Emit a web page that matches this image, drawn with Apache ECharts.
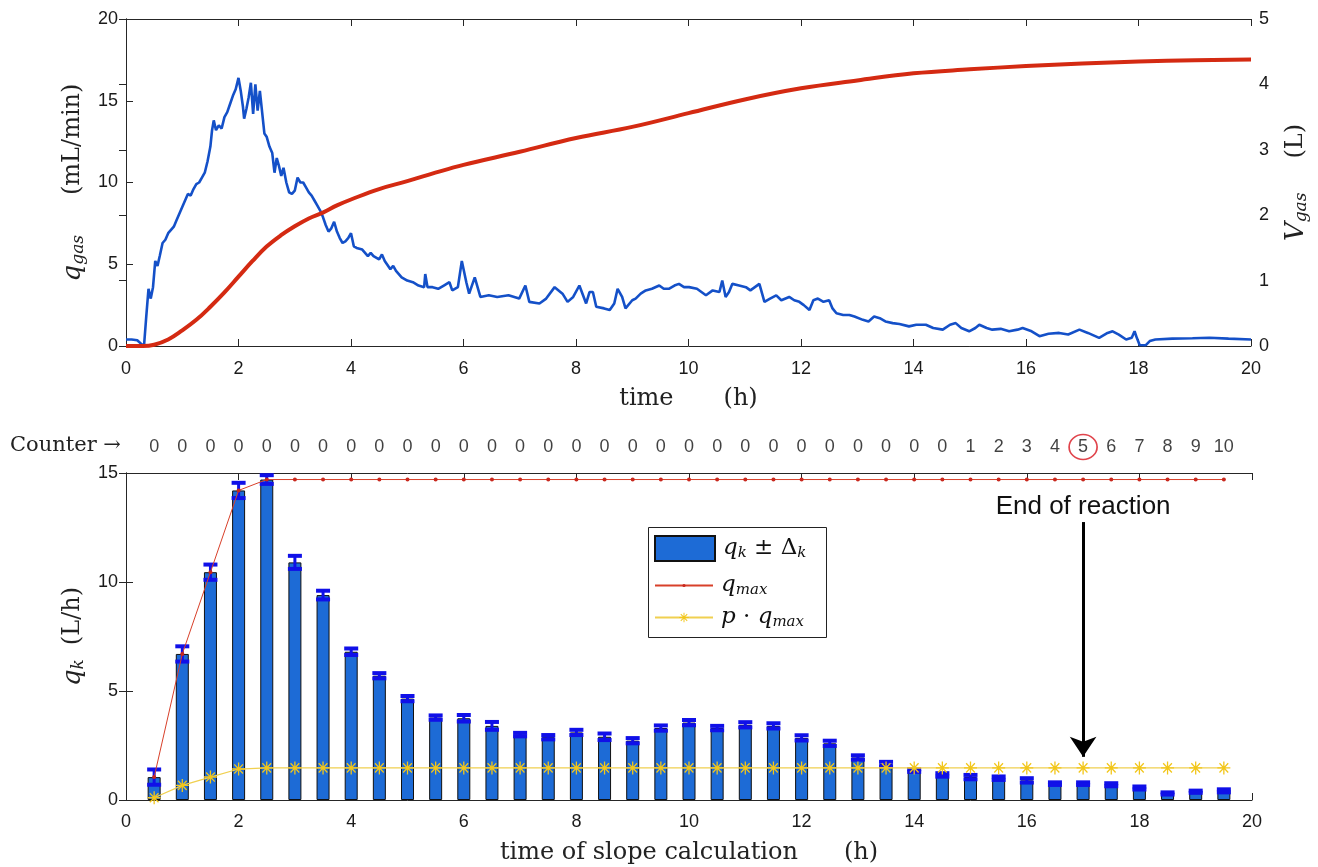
<!DOCTYPE html>
<html>
<head>
<meta charset="utf-8">
<script src="https://cdn.jsdelivr.net/npm/echarts@6/dist/echarts.min.js"></script>
<style>
html, body { margin: 0; padding: 0; background: #fff; }
#chart { width: 1318px; height: 867px; }
</style>
</head>
<body>
<div id="chart"></div>
<script>
// top panel: gas flow (mL/min) and cumulative gas volume (L)
var qTime = [0,0.1,0.2,0.28,0.32,0.36,0.4,0.44,0.48,0.52,0.56,0.6,0.65,0.7,0.75,0.8,0.85,0.9,0.95,1.0,1.05,1.1,1.15,1.2,1.25,1.3,1.35,1.4,1.45,1.5,1.53,1.56,1.6,1.65,1.7,1.75,1.8,1.85,1.9,1.95,2.0,2.04,2.08,2.1,2.14,2.18,2.22,2.26,2.3,2.34,2.38,2.42,2.46,2.5,2.55,2.6,2.64,2.68,2.72,2.76,2.8,2.85,2.9,2.95,3.0,3.05,3.1,3.15,3.2,3.25,3.3,3.35,3.4,3.45,3.5,3.55,3.6,3.65,3.7,3.75,3.8,3.85,3.9,3.95,4.0,4.05,4.1,4.2,4.3,4.35,4.4,4.5,4.55,4.6,4.7,4.75,4.8,4.9,5.0,5.1,5.2,5.3,5.32,5.36,5.45,5.55,5.65,5.75,5.8,5.9,5.97,6.05,6.1,6.2,6.3,6.45,6.6,6.8,6.99,7.1,7.17,7.35,7.47,7.62,7.76,7.85,7.95,8.06,8.18,8.24,8.3,8.36,8.5,8.6,8.68,8.74,8.82,8.88,9.0,9.06,9.15,9.24,9.35,9.48,9.56,9.65,9.75,9.83,9.92,10.01,10.15,10.31,10.43,10.55,10.6,10.66,10.72,10.78,10.9,11.02,11.1,11.26,11.35,11.45,11.56,11.65,11.79,11.88,11.97,12.05,12.15,12.22,12.3,12.4,12.5,12.56,12.63,12.75,12.86,12.95,13.1,13.2,13.3,13.4,13.5,13.63,13.75,13.92,14.05,14.22,14.35,14.52,14.65,14.75,14.85,14.99,15.1,15.17,15.3,15.4,15.55,15.7,15.85,15.94,16.1,16.24,16.4,16.59,16.75,16.95,17.1,17.3,17.45,17.54,17.65,17.78,17.88,17.93,17.97,18.02,18.13,18.2,18.3,18.6,18.96,19.26,19.6,20];
var qGas = [0.4,0.4,0.35,0.1,0.0,1.8,3.5,2.9,3.6,5.2,4.9,5.5,6.3,6.5,6.9,7.1,7.3,7.7,8.1,8.5,8.9,9.3,9.2,9.6,9.9,10.0,10.3,10.6,11.3,12.2,13.2,13.8,13.2,13.5,13.3,14.0,14.3,14.8,15.3,15.7,16.4,15.6,14.6,13.9,14.5,15.2,16.1,14.2,16.0,14.4,15.6,14.3,13.0,12.8,12.2,11.8,10.6,11.5,11.0,10.4,10.9,10.0,9.4,9.3,9.5,10.3,10.0,10.0,9.7,9.4,9.2,8.9,8.6,8.3,7.9,7.4,7.0,7.2,7.6,7.0,6.6,6.3,6.4,6.6,6.9,6.1,6.0,5.9,5.5,5.7,5.5,5.3,5.6,5.2,4.7,4.9,4.6,4.2,4.0,3.9,3.7,3.6,4.4,3.6,3.6,3.5,3.7,3.9,3.4,3.6,5.2,3.9,3.2,4.2,3.0,3.1,3.0,3.1,2.9,3.7,2.7,2.6,2.9,3.6,3.2,2.7,3.0,3.7,2.6,3.3,3.3,2.4,2.3,2.2,2.6,3.5,3.0,2.3,2.8,2.9,3.2,3.4,3.5,3.7,3.5,3.5,3.7,3.8,3.6,3.6,3.5,3.1,3.4,3.3,4.0,3.0,3.3,3.8,3.7,3.6,3.4,3.8,2.7,2.9,3.1,2.8,3.0,2.8,2.7,2.5,2.2,2.8,2.9,2.7,2.8,2.3,2.0,1.9,1.9,1.8,1.6,1.5,1.8,1.7,1.5,1.4,1.35,1.2,1.3,1.3,1.1,1.0,1.3,1.4,1.1,0.9,1.1,1.3,1.1,1.0,1.05,0.9,1.0,1.1,0.9,0.6,0.75,0.8,0.7,1.0,0.8,0.5,0.8,0.9,0.7,0.4,0.5,0.9,0.5,0.06,0.05,0.3,0.4,0.45,0.47,0.5,0.45,0.4];
var vTime = [0,0.3,0.5,0.75,1,1.25,1.5,1.75,2,2.25,2.5,2.75,3,3.25,3.5,3.75,4,4.5,5,5.5,6,7,8,9,10,11,12,13,14,15,16,17,18,19,20];
var vGas = [0,0,0.02,0.1,0.24,0.4,0.6,0.82,1.06,1.3,1.52,1.69,1.83,1.95,2.04,2.15,2.24,2.4,2.52,2.65,2.77,2.97,3.18,3.35,3.56,3.77,3.94,4.06,4.17,4.23,4.28,4.32,4.35,4.37,4.38];

// bottom panel: slopes q_k (L/h) with error, running max and threshold
var tk = [0.5,1,1.5,2,2.5,3,3.5,4,4.5,5,5.5,6,6.5,7,7.5,8,8.5,9,9.5,10,10.5,11,11.5,12,12.5,13,13.5,14,14.5,15,15.5,16,16.5,17,17.5,18,18.5,19,19.5];
var qk = [1.05,6.7,10.45,14.2,14.7,10.9,9.4,6.8,5.7,4.65,3.78,3.75,3.4,3.0,2.88,3.1,2.9,2.72,3.3,3.55,3.3,3.45,3.4,2.85,2.6,1.95,1.65,1.35,1.15,1.05,1.0,0.9,0.75,0.75,0.7,0.55,0.3,0.38,0.42];
var dk = [0.35,0.35,0.35,0.35,0.2,0.3,0.2,0.15,0.12,0.12,0.1,0.15,0.18,0.08,0.1,0.12,0.15,0.12,0.12,0.12,0.1,0.12,0.12,0.12,0.12,0.1,0.1,0.06,0.08,0.1,0.08,0.1,0.06,0.06,0.07,0.07,0.05,0.05,0.07];
var qMax = [1.05,6.7,10.45,14.2,14.7,14.7,14.7,14.7,14.7,14.7,14.7,14.7,14.7,14.7,14.7,14.7,14.7,14.7,14.7,14.7,14.7,14.7,14.7,14.7,14.7,14.7,14.7,14.7,14.7,14.7,14.7,14.7,14.7,14.7,14.7,14.7,14.7,14.7,14.7];
var pqMax = [0.1,0.67,1.05,1.42,1.47,1.47,1.47,1.47,1.47,1.47,1.47,1.47,1.47,1.47,1.47,1.47,1.47,1.47,1.47,1.47,1.47,1.47,1.47,1.47,1.47,1.47,1.47,1.47,1.47,1.47,1.47,1.47,1.47,1.47,1.47,1.47,1.47,1.47,1.47];
var counter = [0,0,0,0,0,0,0,0,0,0,0,0,0,0,0,0,0,0,0,0,0,0,0,0,0,0,0,0,0,1,2,3,4,5,6,7,8,9,10];
var endTime = 17;

function zip(a, b) {
    var out = [];
    for (var i = 0; i < a.length; i++) out.push([a[i], b[i]]);
    return out;
}

var AX = '#262626';
var SANS = 'Liberation Sans';
var SERIF = 'DejaVu Serif';
var tickLbl = {color: '#1a1a1a', fontFamily: SANS, fontSize: 18};
var STAR = 'path://M9,0L11,0L11,7L16,2L17.4,3.4L12.4,8.4L20,8.4L20,10.4L12.4,10.4L17.4,15.4L16,16.8L11,11.8L11,19L9,19L9,11.8L4,16.8L2.6,15.4L7.6,10.4L0,10.4L0,8.4L7.6,8.4L2.6,3.4L4,2L9,7Z';

// axis-name styles (LaTeX look)
var nameRich = {
    i: {fontFamily: SERIF, fontStyle: 'italic', fontSize: 26, color: '#222'},
    s: {fontFamily: SERIF, fontStyle: 'italic', fontSize: 17, color: '#222', padding: [11, 0, 0, 0]},
    r: {fontFamily: SERIF, fontSize: 24, color: '#222'},
    g: {width: 34}
};
// legend styles
var legRich = {
    i: {fontFamily: SERIF, fontStyle: 'italic', fontSize: 23, color: '#111'},
    s: {fontFamily: SERIF, fontStyle: 'italic', fontSize: 15, color: '#111', padding: [10, 0, 0, 0]},
    r: {fontFamily: SERIF, fontSize: 23, color: '#111'}
};

function boxX(grid, pos) {
    return {
        type: 'value', gridIndex: grid, position: pos, min: 0, max: 20, interval: 2,
        axisLine: {show: true, onZero: false, lineStyle: {color: AX, width: 1}},
        axisTick: {show: true, inside: true, length: 7, lineStyle: {color: AX}},
        axisLabel: {show: false}, splitLine: {show: false}
    };
}

function legendBlock(name, top, w, h, icon) {
    var item = {name: name};
    if (icon) item.icon = icon;
    return {
        data: [item], orient: 'vertical', left: 654, top: top,
        padding: 0, itemWidth: w, itemHeight: h, itemGap: 0,
        textStyle: {rich: legRich, padding: [0, 0, 0, 3]},
        selectedMode: false,
        formatter: function(n) {
            if (n == 'qk') return '{i|q}{s|k}{r| ± Δ}{s|k}';
            if (n == 'qmax') return '{i|q}{s|max}';
            return '{i|p}{r| · }{i|q}{s|max}';
        }
    };
}

var chart = echarts.init(document.getElementById('chart'));

var option = {
    backgroundColor: '#fff',
    animation: false,
    grid: [
        {left: 126, top: 19, width: 1126, height: 327},
        {left: 126, top: 473, width: 1126, height: 327}
    ],
    xAxis: [
        {
            type: 'value', gridIndex: 0, position: 'bottom', min: 0, max: 20, interval: 2,
            name: '{r|time}{g|}{r|(h)}', nameLocation: 'middle', nameGap: 41,
            nameTextStyle: {rich: Object.assign({}, nameRich, {g: {width: 50}})},
            axisLine: {show: true, onZero: false, lineStyle: {color: AX}},
            axisTick: {show: true, inside: true, length: 7, lineStyle: {color: AX}},
            axisLabel: Object.assign({margin: 14}, tickLbl),
            splitLine: {show: false}
        },
        boxX(0, 'top'),
        {
            type: 'value', gridIndex: 1, position: 'bottom', min: 0, max: 20, interval: 2,
            name: '{r|time of slope calculation}{g|}{r|(h)}', nameLocation: 'middle', nameGap: 41,
            nameTextStyle: {rich: Object.assign({}, nameRich, {g: {width: 46}})},
            axisLine: {show: true, onZero: false, lineStyle: {color: AX}},
            axisTick: {show: true, inside: true, length: 7, lineStyle: {color: AX}},
            axisLabel: Object.assign({margin: 13}, tickLbl),
            splitLine: {show: false}
        },
        boxX(1, 'top')
    ],
    yAxis: [
        {
            type: 'value', gridIndex: 0, position: 'left', min: 0, max: 20, interval: 5,
            name: '{i|q}{s|gas}{g|}{r|(mL/min)}', nameLocation: 'middle', nameRotate: 90, nameGap: 38,
            nameTextStyle: {rich: Object.assign({}, nameRich, {g: {width: 40}})},
            axisLine: {show: true, lineStyle: {color: AX}},
            axisTick: {show: true, inside: true, length: 7, lineStyle: {color: AX}},
            axisLabel: Object.assign({margin: 8}, tickLbl),
            splitLine: {show: false}
        },
        {
            type: 'value', gridIndex: 0, position: 'right', min: 0, max: 5, interval: 1,
            name: '{i|V}{s|gas}{g|}{r|(L)}', nameLocation: 'middle', nameRotate: 90, nameGap: 31,
            nameTextStyle: {rich: nameRich},
            axisLine: {show: true, lineStyle: {color: AX}},
            axisTick: {show: true, inside: true, length: 7, lineStyle: {color: AX}},
            axisLabel: Object.assign({margin: 8}, tickLbl),
            splitLine: {show: false}
        },
        {
            type: 'value', gridIndex: 1, position: 'left', min: 0, max: 15, interval: 5,
            name: '{i|q}{s|k}{g|}{r|(L/h)}', nameLocation: 'middle', nameRotate: 90, nameGap: 38,
            nameTextStyle: {rich: Object.assign({}, nameRich, {g: {width: 14}})},
            axisLine: {show: true, lineStyle: {color: AX}},
            axisTick: {show: true, inside: true, length: 7, lineStyle: {color: AX}},
            axisLabel: Object.assign({margin: 8}, tickLbl),
            splitLine: {show: false}
        },
        {
            type: 'value', gridIndex: 1, position: 'right', min: 0, max: 15, interval: 5,
            axisLine: {show: true, lineStyle: {color: AX}},
            axisTick: {show: true, inside: true, length: 7, lineStyle: {color: AX}},
            axisLabel: {show: false},
            splitLine: {show: false}
        }
    ],
    legend: [
        legendBlock('qk', 535, 60, 25, 'rect'),
        legendBlock('qmax', 574, 58, 4),
        legendBlock('pqmax', 606, 58, 12)
    ],
    graphic: [
        {type: 'rect', left: 648, top: 527, z: 1,
         shape: {width: 178, height: 110},
         style: {fill: '#fff', stroke: '#222', lineWidth: 1}},
        {type: 'text', left: 10, top: 435, style: {text: 'Counter →', font: '21px "DejaVu Serif"', fill: '#222'}}
    ],
    series: [
        {
            name: 'qgas', type: 'line', xAxisIndex: 0, yAxisIndex: 0,
            data: zip(qTime, qGas), showSymbol: false, symbol: 'none',
            lineStyle: {color: '#1450c8', width: 2.6}, z: 3
        },
        {
            name: 'Vgas', type: 'line', xAxisIndex: 0, yAxisIndex: 1,
            data: zip(vTime, vGas), showSymbol: false, symbol: 'none', smooth: 0.4,
            lineStyle: {color: '#d42a12', width: 4}, z: 4
        },
        {
            name: 'qk', type: 'bar', xAxisIndex: 2, yAxisIndex: 2,
            data: zip(tk, qk), barWidth: 13,
            itemStyle: {color: '#1d6bd6', borderColor: '#111', borderWidth: 1}, z: 2
        },
        {
            name: 'err', type: 'custom', xAxisIndex: 2, yAxisIndex: 2,
            data: tk.map(function(t, i) { return [t, qk[i] - dk[i], qk[i] + dk[i]]; }),
            renderItem: function(params, api) {
                var lo = api.coord([api.value(0), api.value(1)]);
                var hi = api.coord([api.value(0), api.value(2)]);
                var w = 7;
                var st = {stroke: '#1010e8', lineWidth: 3};
                var cap = {stroke: '#1010e8', lineWidth: 4};
                return {
                    type: 'group',
                    children: [
                        {type: 'line', shape: {x1: lo[0], y1: lo[1], x2: hi[0], y2: hi[1]}, style: st},
                        {type: 'line', shape: {x1: hi[0] - w, y1: hi[1], x2: hi[0] + w, y2: hi[1]}, style: cap},
                        {type: 'line', shape: {x1: lo[0] - w, y1: lo[1], x2: lo[0] + w, y2: lo[1]}, style: cap}
                    ]
                };
            },
            z: 5
        },
        {
            name: 'qmax', type: 'line', xAxisIndex: 2, yAxisIndex: 2,
            data: zip(tk, qMax), symbol: 'circle', symbolSize: 4,
            itemStyle: {color: '#c8281e'}, lineStyle: {color: '#d8402a', width: 1}, z: 6
        },
        {
            name: 'pqmax', type: 'line', xAxisIndex: 2, yAxisIndex: 2,
            data: zip(tk, pqMax), symbol: STAR, symbolSize: 13,
            itemStyle: {color: '#f2c61a'}, lineStyle: {color: '#f0d050', width: 1.2}, z: 6
        },
        {
            name: 'arrow', type: 'line', xAxisIndex: 2, yAxisIndex: 2,
            data: [], itemStyle: {color: '#000'}, z: 7,
            markLine: {
                silent: true, animation: false,
                symbol: ['none', 'arrow'], symbolSize: 20,
                lineStyle: {color: '#000', width: 3, type: 'solid'},
                itemStyle: {color: '#000'},
                label: {
                    show: true, position: 'start', distance: 2,
                    formatter: 'End of reaction',
                    fontFamily: SANS, fontSize: 26, color: '#111'
                },
                data: [[{coord: [endTime, 12.75]}, {coord: [endTime, 1.98]}]]
            }
        },
        {
            name: 'counter', type: 'scatter', xAxisIndex: 2, yAxisIndex: 2,
            data: tk.map(function(t, i) { return [t, 15, counter[i]]; }),
            symbolSize: 0, clip: false, silent: true,
            label: {
                show: true, position: 'top', distance: 17,
                formatter: function(p) { return p.value[2]; },
                fontFamily: SANS, fontSize: 18, color: '#111'
            }
        },
        {
            name: 'mark', type: 'scatter', xAxisIndex: 2, yAxisIndex: 2,
            data: [[endTime, 15]], clip: false, silent: true,
            symbol: 'circle', symbolSize: [28, 25], symbolOffset: [0, -26],
            itemStyle: {color: 'rgba(0,0,0,0)', borderColor: '#d8141e', borderWidth: 1.6}
        }
    ]
};

chart.setOption(option);
</script>
</body>
</html>
